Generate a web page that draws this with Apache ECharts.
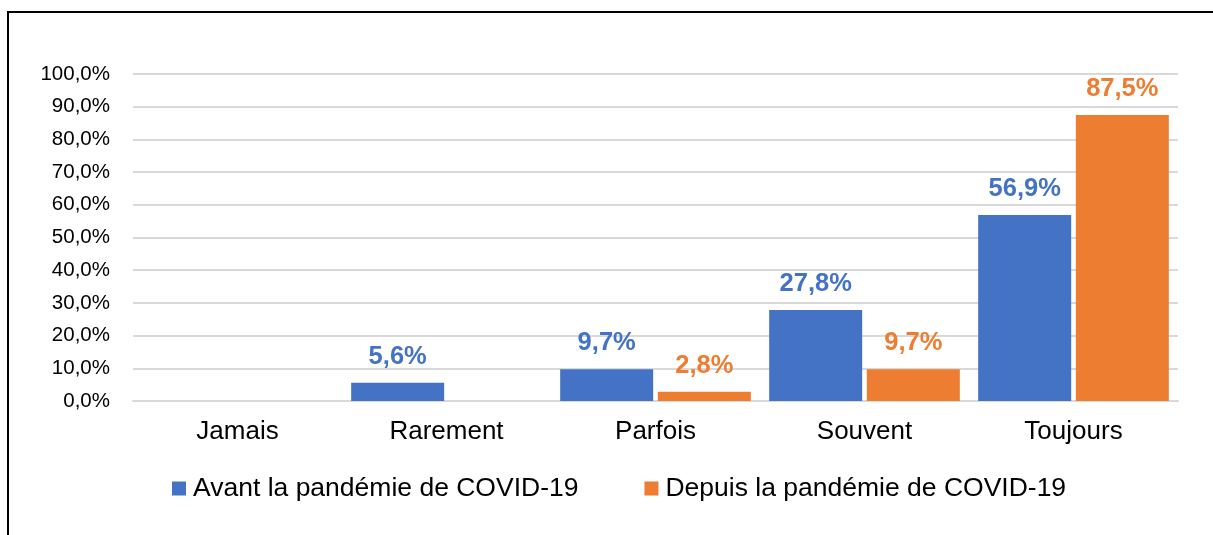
<!DOCTYPE html>
<html>
<head>
<meta charset="utf-8">
<script src="https://cdn.jsdelivr.net/npm/echarts@6/dist/echarts.min.js"></script>
<style>
  html, body { margin: 0; padding: 0; background: #fff; }
  #chart { width: 1213px; height: 535px; }
  .frame { position: absolute; left: 7px; top: 11px; width: 1300px; height: 600px; border-left: 2px solid #000; border-top: 2px solid #000; pointer-events: none; }
</style>
</head>
<body>
<div id="chart"></div>
<div class="frame"></div>
<script>
const categories = ["Jamais", "Rarement", "Parfois", "Souvent", "Toujours"];
const avantValues = [0, 5.6, 9.7, 27.8, 56.9];
const depuisValues = [0, 0, 2.8, 9.7, 87.5];
const seriesNames = ["Avant la pandémie de COVID-19", "Depuis la pandémie de COVID-19"];

const FONT = "'Liberation Sans', Arial, sans-serif";
const pct = (v) => v.toFixed(1).replace(".", ",") + "%";

const chart = echarts.init(document.getElementById("chart"));

function barSeries(name, data, color) {
  return {
    name,
    type: "bar",
    data,
    barWidth: 93,
    barGap: "5%",
    itemStyle: { color },
    label: {
      show: true,
      position: "top",
      distance: 13,
      color,
      fontFamily: FONT,
      fontSize: 25.5,
      fontWeight: "bold",
      formatter: (p) => (p.value ? pct(p.value) : ""),
    },
  };
}

chart.setOption({
  animation: false,
  backgroundColor: "#fff",
  textStyle: { fontFamily: FONT },
  grid: { left: 133, right: 35, top: 74, bottom: 134 },
  legend: {
    top: 475,
    left: 172,
    padding: 0,
    itemWidth: 14,
    itemHeight: 14,
    itemGap: 66,
    icon: "rect",
    textStyle: { fontFamily: FONT, fontSize: 26.5, color: "#000", padding: [0, 0, 0, 2] },
    data: seriesNames,
  },
  xAxis: {
    type: "category",
    data: categories,
    axisTick: { show: false },
    axisLine: { lineStyle: { color: "#d9d9d9", width: 2 } },
    axisLabel: { fontFamily: FONT, fontSize: 26, color: "#000", margin: 18 },
  },
  yAxis: {
    type: "value",
    min: 0,
    max: 100,
    interval: 10,
    axisLine: { show: false },
    axisTick: { show: false },
    splitLine: { lineStyle: { color: "#d9d9d9", width: 2 } },
    axisLabel: { fontFamily: FONT, fontSize: 20.5, color: "#000", margin: 23, formatter: (v) => pct(v) },
  },
  series: [
    barSeries(seriesNames[0], avantValues, "#4472C4"),
    barSeries(seriesNames[1], depuisValues, "#ED7D31"),
  ],
});
</script>
</body>
</html>
